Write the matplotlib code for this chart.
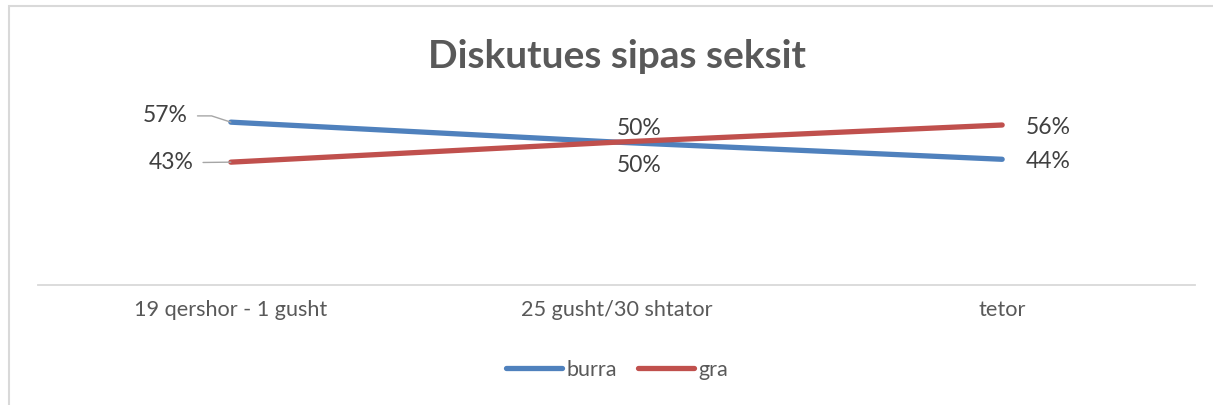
import matplotlib
matplotlib.use("Agg")
import matplotlib.pyplot as plt
from matplotlib.patches import Rectangle

categories = ["19 qershor - 1 gusht", "25 gusht/30 shtator", "tetor"]
burra = [0.57, 0.50, 0.44]
gra = [0.43, 0.50, 0.56]
title = "Diskutues sipas seksit"

W, H = 1213, 405
fig = plt.figure(figsize=(W / 100, H / 100), dpi=100)
fig.patch.set_facecolor("white")
plt.rcParams['font.family'] = ['Lato', 'DejaVu Sans']

# chart border (partially cut off at right/bottom)
fig.add_artist(Rectangle((9 / W, -0.05), 1.2, (H - 6) / H + 0.05, transform=fig.transFigure,
                         fill=False, edgecolor="#d9d9d9", linewidth=1.5))

y0 = 285
ppp = 2.857  # px per percent
top = 60
ax = fig.add_axes([38 / W, (H - y0) / H, (1195 - 38) / W, top * ppp / H])
ax.set_xlim(-0.5, 2.5)
ax.set_ylim(0, top / 100)
for s in ["top", "right", "left"]:
    ax.spines[s].set_visible(False)
ax.spines["bottom"].set_color("#d9d9d9")
ax.spines["bottom"].set_linewidth(1.3)
ax.set_yticks([])
x = list(range(len(categories)))
ax.set_xticks(x)
ax.set_xticklabels(categories, fontsize=15.6, color="#595959")
ax.tick_params(axis="x", length=0, pad=11)
ax.patch.set_alpha(0)

lb, = ax.plot(x, burra, color="#4F81BD", linewidth=3.8, solid_capstyle="round", label="burra", clip_on=False)
lr, = ax.plot(x, gra, color="#C0504D", linewidth=3.8, solid_capstyle="round", label="gra", clip_on=False)

lab_kw = dict(fontsize=16.5, color="#404040", va="center")
# first point labels with leader lines
ax.annotate(f"{burra[0]:.0%}", xy=(x[0], burra[0]), xytext=(-31, 4.5), textcoords="offset points",
            ha="right", **lab_kw,
            arrowprops=dict(arrowstyle="-", color="#a6a6a6", lw=1.0,
                            connectionstyle="angle,angleA=0,angleB=162,rad=0", shrinkA=5, shrinkB=0))
ax.annotate(f"{gra[0]:.0%}", xy=(x[0], gra[0]), xytext=(-27, -0.5), textcoords="offset points",
            ha="right", **lab_kw,
            arrowprops=dict(arrowstyle="-", color="#a6a6a6", lw=1.0, shrinkA=5, shrinkB=0))
# middle
ax.annotate(f"{gra[1]:.0%}", xy=(x[1], gra[1]), xytext=(16, 10), textcoords="offset points",
            ha="center", **lab_kw)
ax.annotate(f"{burra[1]:.0%}", xy=(x[1], burra[1]), xytext=(16, -17), textcoords="offset points",
            ha="center", **lab_kw)
# last
ax.annotate(f"{gra[2]:.0%}", xy=(x[2], gra[2]), xytext=(17, -1.5), textcoords="offset points",
            ha="left", **lab_kw)
ax.annotate(f"{burra[2]:.0%}", xy=(x[2], burra[2]), xytext=(17, -1.5), textcoords="offset points",
            ha="left", **lab_kw)

fig.text(617 / W, 1 - 56 / H, title, ha="center", va="center", fontsize=28,
         fontweight="bold", color="#595959")

fig.legend(handles=[lb, lr], loc="center", bbox_to_anchor=(617 / W, 1 - 370 / H),
           ncol=2, frameon=False, fontsize=15.5, labelcolor="#595959",
           handlelength=2.6, handletextpad=0.2, columnspacing=1.0)

fig.savefig("out.png", dpi=100, facecolor="white")
